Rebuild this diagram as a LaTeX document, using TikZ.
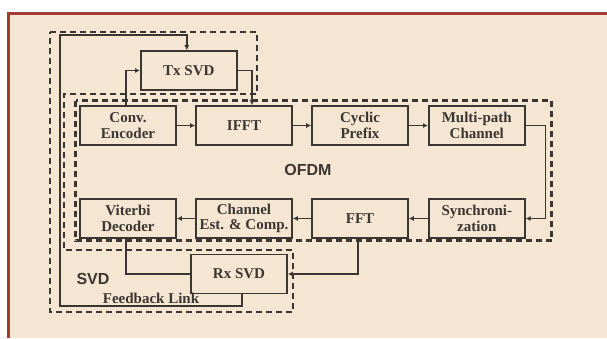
\documentclass[tikz,border=0pt]{standalone}
\usepackage{fontspec}
\setmainfont{Liberation Serif}
\setsansfont{Liberation Sans}
\usetikzlibrary{arrows.meta,positioning,calc}
\definecolor{paper}{HTML}{F5E6D3}
\definecolor{framered}{HTML}{A23B36}
\definecolor{ink}{HTML}{3B3631}
\tikzset{
  blockbox/.style={draw=ink, line width=1.6pt, minimum width=96pt, minimum height=39pt, inner sep=1pt, align=center, text=ink, font=\bfseries\fontsize{15}{15.7}\selectfont},
  arrow/.style={-{Latex[length=5pt,width=5pt]}, line width=1.4pt, draw=ink},
  link/.style={line width=1.4pt, draw=ink},
  region/.style={draw=ink, line width=2.4pt, dash pattern=on 6pt off 4pt},
  tag/.style={text=ink, font=\sffamily\bfseries\fontsize{16}{17}\selectfont}
}

\begin{document}
\begin{tikzpicture}[x=1pt, y=-1pt]
  % page, background and frame
  \useasboundingbox (0,0) rectangle (607,338);
  \fill[white] (0,0) rectangle (607,338);
  \fill[paper] (8,13.5) rectangle (607,338);
  \draw[framered, line width=3pt] (8.5,338) -- (8.5,13.5) -- (607,13.5);

  % dashed regions
  \draw[region] (50,32) -- (257,32) -- (257,94) -- (64,94) -- (64,250) -- (293,250) -- (293,312) -- (50,312) -- cycle;
  \draw[region] (75.5,100.5) rectangle (551.5,240.5);

  % transmitter row
  \node[blockbox] (conv) at (128,125.5) {Conv.\\Encoder};
  \node[blockbox] (ifft) at (244,125.5) {IFFT};
  \node[blockbox] (cyclic) at (360,125.5) {Cyclic\\Prefix};
  \node[blockbox] (multipath) at (476.8,125.5) {Multi-path\\Channel};

  % receiver row
  \node[blockbox] (viterbi) at (128,218.5) {Viterbi\\Decoder};
  \node[blockbox] (chest) at (244,218.5) {Channel\\Est. \& Comp.};
  \node[blockbox] (fft) at (360,218.5) {FFT};
  \node[blockbox] (sync) at (476.8,218.5) {Synchroni-\\zation};

  % svd blocks
  \node[blockbox] (txsvd) at (188.8,70.5) {Tx SVD};
  \node[blockbox] (rxsvd) at (239,274) {Rx SVD};

  % labels
  \node[tag] (ofdmlabel) at (308,170) {OFDM};
  \node[tag] (svdlabel) at (93,279) {SVD};
  \node[text=ink, font=\bfseries\fontsize{15}{16}\selectfont] (fblabel) at (151,298) {Feedback Link};

  % forward chain
  \draw[arrow] (conv) -- (ifft);
  \draw[arrow] (ifft) -- (cyclic);
  \draw[arrow] (cyclic) -- (multipath);
  \draw[arrow] (multipath.east) -- ++(20,0) |- (sync.east);
  \draw[arrow] (sync) -- (fft);
  \draw[arrow] (fft) -- (chest);
  \draw[arrow] (chest) -- (viterbi);

  % svd paths
  \draw[arrow] ([xshift=-2pt]conv.north) |- (txsvd.west);
  \draw[arrow] (txsvd.east) -| ([xshift=8pt]ifft.north);
  \draw[arrow] ([xshift=-2pt]fft.south) |- (rxsvd.east);
  \draw[link] (rxsvd.west) -| ([xshift=-2pt]viterbi.south);

  % feedback link
  \coordinate (fbll) at (60,306);
  \coordinate (fbul) at (60,35);
  \draw[arrow] ([xshift=3pt]rxsvd.south) |- (fbll) -- (fbul) -| ([xshift=-2pt]txsvd.north);
\end{tikzpicture}
\end{document}
